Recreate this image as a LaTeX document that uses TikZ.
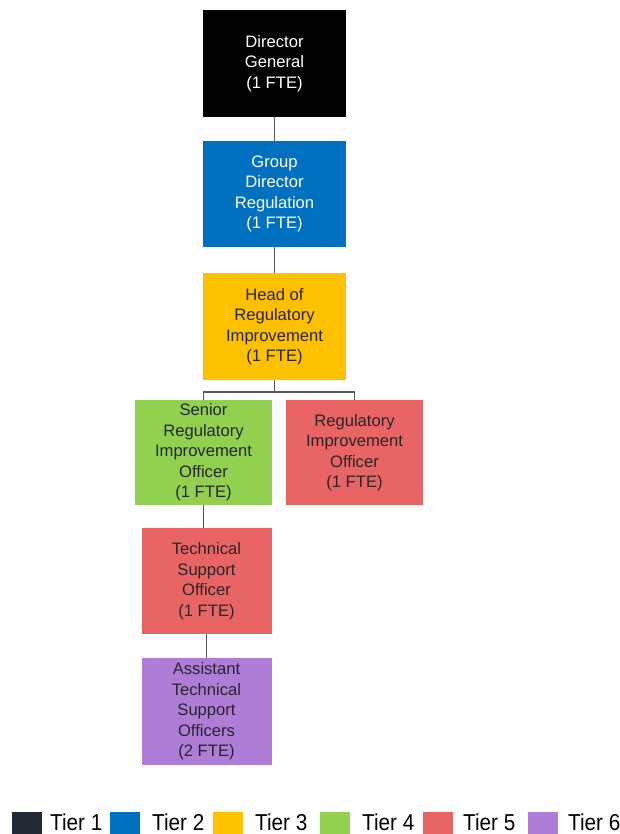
\documentclass[tikz,border=0pt]{standalone}
\usepackage{fontspec}
\setmainfont{Liberation Sans}
\newfontfamily\legfont[FakeStretch=0.9]{Liberation Sans}
\definecolor{tA}{HTML}{000000}
\definecolor{tAleg}{HTML}{222A35}
\definecolor{tB}{HTML}{0070C0}
\definecolor{tC}{HTML}{FFC000}
\definecolor{tD}{HTML}{92D050}
\definecolor{tE}{HTML}{E96565}
\definecolor{tF}{HTML}{AF7DD8}
\definecolor{txtdark}{HTML}{262626}
\definecolor{conn}{HTML}{595959}
\tikzset{
  box/.style={draw=none, inner sep=0pt, align=center, font=\fontsize{16.6}{20.5}\selectfont},
  darktxt/.style={text=txtdark},
  lighttxt/.style={text=white},
  link/.style={draw=conn, line width=1.4pt},
  legsq/.style={inner sep=0pt, minimum width=30pt, minimum height=22pt},
  legtxt/.style={anchor=base west, inner sep=0pt, text=black, font=\legfont\fontsize{23}{27}\selectfont},
}
\begin{document}
\begin{tikzpicture}[x=1pt,y=1pt]
\useasboundingbox (0,0) rectangle (619,-834);
\fill[white] (0,0) rectangle (619,-834);

\node[box, lighttxt, fill=tA, minimum width=143pt, minimum height=107pt] (dg) at (274.5,-63.5) {Director\\General\\(1 FTE)};
\node[box, lighttxt, fill=tB, minimum width=143pt, minimum height=106pt] (grp) at (274.5,-194) {Group\\Director\\Regulation\\(1 FTE)};
\node[box, darktxt, fill=tC, minimum width=143pt, minimum height=107pt] (head) at (274.5,-326.5) {Head of\\Regulatory\\Improvement\\(1 FTE)};
\node[box, darktxt, fill=tD, minimum width=137pt, minimum height=105pt] (sen) at (203.5,-452.5) {Senior\\Regulatory\\Improvement\\Officer\\(1 FTE)};
\node[box, darktxt, fill=tE, minimum width=137pt, minimum height=105pt] (reg) at (354.5,-452.5) {Regulatory\\Improvement\\Officer\\(1 FTE)};
\node[box, darktxt, fill=tE, minimum width=130pt, minimum height=106pt] (tech) at (206.5,-581) {Technical\\Support\\Officer\\(1 FTE)};
\node[box, darktxt, fill=tF, minimum width=130pt, minimum height=107pt] (asst) at (206.5,-711.5) {Assistant\\Technical\\Support\\Officers\\(2 FTE)};

\coordinate (split) at (274.5,-392);
\draw[link] (dg.south) -- (grp.north);
\draw[link] (grp.south) -- (head.north);
\draw[link] (head.south) -- (split);
\draw[link] (sen.north) |- (split) -| (reg.north);
\draw[link] (sen.south) -- (sen.south |- tech.north);
\draw[link] (tech.south) -- (asst.north);

% legend
\node[legsq, fill=tAleg] (l1) at (27,-823) {};
\node[legtxt] (t1) at (50,-830) {Tier 1};
\node[legsq, fill=tB] (l2) at (125,-823) {};
\node[legtxt] (t2) at (152,-830) {Tier 2};
\node[legsq, fill=tC] (l3) at (228,-823) {};
\node[legtxt] (t3) at (255,-830) {Tier 3};
\node[legsq, fill=tD] (l4) at (334.5,-823) {};
\node[legtxt] (t4) at (362,-830) {Tier 4};
\node[legsq, fill=tE] (l5) at (438,-823) {};
\node[legtxt] (t5) at (463,-830) {Tier 5};
\node[legsq, fill=tF] (l6) at (543,-823) {};
\node[legtxt] (t6) at (568,-830) {Tier 6};
\end{tikzpicture}
\end{document}
